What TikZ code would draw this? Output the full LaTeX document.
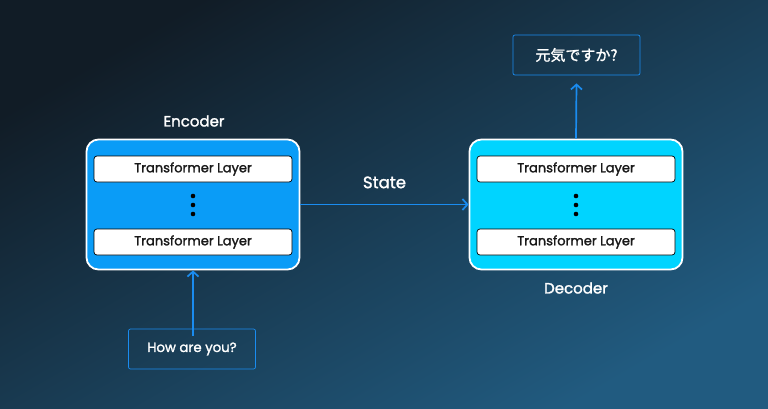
\documentclass[tikz,border=0pt]{standalone}
\usepackage{fontspec}
\setmainfont{Poppins}
\newfontfamily\medfont{Poppins}[FakeBold=1.6]
\newfontfamily\jpfont{Noto Sans CJK JP}[FakeBold=1.4]
\usetikzlibrary{arrows.meta}
\definecolor{bgdark}{HTML}{111C26}
\definecolor{bglight}{HTML}{215B80}
\definecolor{encblue}{HTML}{0A9CF7}
\definecolor{deccyan}{HTML}{00D4FF}
\definecolor{linkblue}{HTML}{1A8CF0}
\tikzset{
  stack/.style={draw=white,line width=1.8pt,rounded corners=12pt,minimum width=213pt,minimum height=130pt},
  layerbox/.style={draw=black,fill=white,line width=0.7pt,rounded corners=3pt,minimum width=198pt,minimum height=26pt,font=\medfont\fontsize{13}{15}\selectfont,text=black!90},
  iobox/.style={draw=linkblue,line width=0.7pt,rounded corners=2pt,minimum width=127pt,minimum height=40pt,font=\medfont\fontsize{13.3}{15}\selectfont,text=white},
  caption/.style={text=white,font=\medfont\fontsize{15}{17}\selectfont},
  link/.style={->,draw=linkblue,line width=1.7pt}
}
\begin{document}
\begin{tikzpicture}[x=1pt,y=-1pt,>={Straight Barb[length=5pt,width=11pt]}]
	\begin{scope}[y=1pt]
		\shade[top color=bgdark,bottom color=bglight,shading angle=30] (0,0) rectangle (768,-408);
	\end{scope}
	\useasboundingbox (0,0) rectangle (768,408);
	% encoder / decoder stacks
	\node[stack,fill=encblue] (enc) at (193,204.5) {};
	\node[stack,fill=deccyan] (dec) at (576,204.5) {};
	\foreach \s/\x in {enc/193,dec/576}{
		\node[layerbox] (\s top) at (\x,169) {Transformer Layer};
		\node[layerbox] (\s bot) at (\x,242) {Transformer Layer};
		\foreach \y [count=\i] in {196,205,214}{\fill (\x,\y) circle (2.3pt) node (\s dot\i) {};}
	}
	\node[caption] (enclabel) at (194,121) {Encoder};
	\node[caption] (declabel) at (576,288) {Decoder};
	% input and output
	\node[iobox] (question) at (192,349) {How are you?};
	\node[iobox,font=\jpfont\fontsize{15}{17}\selectfont] (answer) at (576.5,55) {元気ですか?};
	\draw[link] ([yshift=-7pt]question.north -| enc.south) coordinate (qtop) -- (enc.south);
	\draw[link] (dec.north) -- ([yshift=-8pt]answer.south);
	\draw[link] (enc.east) -- node[caption,font=\medfont\fontsize{16.5}{18}\selectfont,above=12pt] (state) {State} (dec.west);
\end{tikzpicture}
\end{document}
